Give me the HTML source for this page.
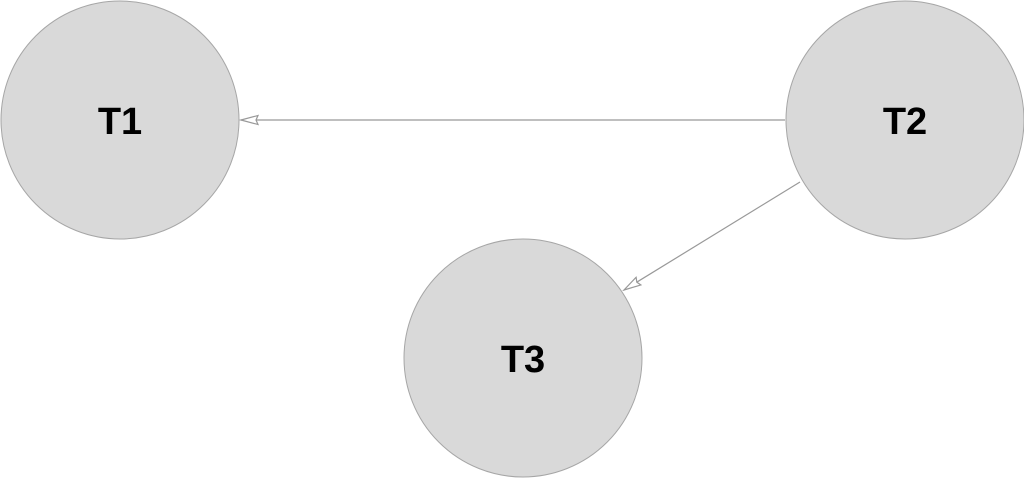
<!DOCTYPE html>
<html><head><style>html,body{margin:0;padding:0;background:#fff;width:1024px;height:478px;overflow:hidden}</style></head>
<body>
<svg width="1024" height="478" viewBox="0 0 1024 478" xmlns="http://www.w3.org/2000/svg">
<defs>
<marker id="a" markerWidth="20" markerHeight="12" refX="18" refY="6" orient="auto" markerUnits="userSpaceOnUse">
<path d="M18,6 L1,1.5 L3,6 L1,10.5 Z" fill="#fff" stroke="#999" stroke-width="1.2"/>
</marker>
</defs>
<g fill="#d9d9d9" stroke="#a6a6a6" stroke-width="1">
<circle cx="120" cy="120" r="119"/>
<circle cx="905" cy="120" r="119"/>
<circle cx="523" cy="358" r="119"/>
</g>
<line x1="785" y1="120" x2="241" y2="120" stroke="#999" stroke-width="1.2" marker-end="url(#a)"/>
<line x1="800" y1="182" x2="624" y2="290" stroke="#999" stroke-width="1.2" marker-end="url(#a)"/>
<g font-family="Liberation Sans, sans-serif" font-weight="bold" font-size="38" text-anchor="middle" fill="#000">
<text x="120" y="134">T1</text>
<text x="905" y="134">T2</text>
<text x="523" y="372">T3</text>
</g>
</svg>
</body></html>
